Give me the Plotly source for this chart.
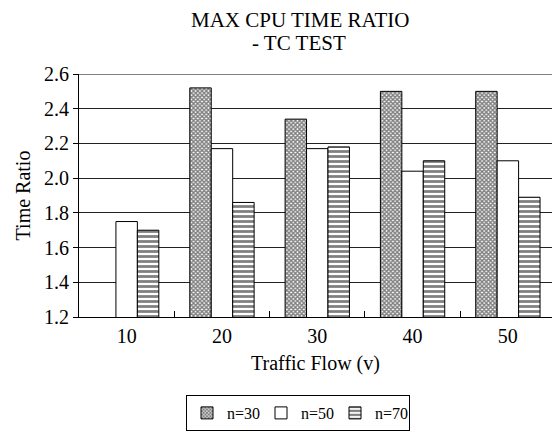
import plotly.graph_objects as go

# Traffic flow categories and max CPU time ratio per node count
flows = ["10", "20", "30", "40", "50"]
n30 = [None, 2.52, 2.34, 2.50, 2.50]
n50 = [1.75, 2.17, 2.17, 2.04, 2.10]
n70 = [1.70, 1.86, 2.18, 2.10, 1.89]
y_ticks = [1.2, 1.4, 1.6, 1.8, 2.0, 2.2, 2.4, 2.6]
title_lines = ["MAX CPU TIME RATIO", "- TC TEST"]

pos = list(range(len(flows)))
FONT = "Liberation Serif"

# plot-area geometry in pixels
W, H = 552, 432
L, T, B = 79, 74, 115
PW, PH = W - L, H - T - B


def px_x(x):
    return (x - L) / PW


def px_y(y):
    return (H - B - y) / PH


fig = go.Figure()
fig.add_trace(go.Bar(
    x=pos, y=n30, name="n=30",
    marker=dict(color="white", line=dict(color="black", width=1),
                pattern=dict(shape="x", size=3, solidity=0.7,
                             fgcolor="black", bgcolor="white")),
))
fig.add_trace(go.Bar(
    x=pos, y=n50, name="n=50",
    marker=dict(color="white", line=dict(color="black", width=1)),
))
fig.add_trace(go.Bar(
    x=pos, y=n70, name="n=70",
    marker=dict(color="white", line=dict(color="black", width=1),
                pattern=dict(shape="-", size=5, solidity=0.55,
                             fgcolor="black", bgcolor="white")),
))

# top frame line of the plotting area
fig.add_shape(type="line", xref="paper", yref="y", x0=0, x1=1,
              y0=y_ticks[-1], y1=y_ticks[-1], line=dict(color="black", width=1))

# two-line chart title
for text, cx, cy in [(title_lines[0], 300, 20), (title_lines[1], 299, 43)]:
    fig.add_annotation(text=text, xref="paper", yref="paper",
                       x=px_x(cx), y=px_y(cy), xanchor="center", yanchor="middle",
                       showarrow=False, font=dict(family=FONT, size=21, color="black"))

fig.update_layout(
    width=W, height=H,
    margin=dict(l=L, r=0, t=T, b=B),
    paper_bgcolor="white", plot_bgcolor="white",
    barmode="group", bargap=0.325, bargroupgap=0,
    font=dict(family=FONT, color="black", size=20),
    xaxis=dict(
        range=[-0.5, 4.463],
        tickvals=pos, ticktext=flows,
        ticks="", showgrid=False,
        showline=True, linecolor="black", linewidth=1,
        ticklabelstandoff=1,
        tickfont=dict(size=20),
        minor=dict(tickvals=[0.5, 1.5, 2.5, 3.5], ticks="inside",
                   ticklen=6, tickcolor="black", tickwidth=1, showgrid=False),
        title=dict(text="Traffic Flow (v)", font=dict(size=20), standoff=9),
        fixedrange=True,
    ),
    yaxis=dict(
        range=[1.2, 2.6],
        tickvals=y_ticks, tickformat=".1f",
        ticks="outside", ticklen=5, tickcolor="black",
        showline=True, linecolor="black", linewidth=1,
        showgrid=True, gridcolor="#222222", gridwidth=1,
        tickfont=dict(size=20),
        title=dict(text="Time Ratio", font=dict(size=20), standoff=8),
        zeroline=False,
    ),
    legend=dict(
        orientation="h", x=px_x(298), xanchor="center",
        y=px_y(395), yanchor="top",
        bordercolor="black", borderwidth=1,
        font=dict(size=16), itemwidth=30,
        entrywidth=29, entrywidthmode="pixels",
        traceorder="normal",
    ),
    showlegend=True,
)

fig.write_html("out.html")
